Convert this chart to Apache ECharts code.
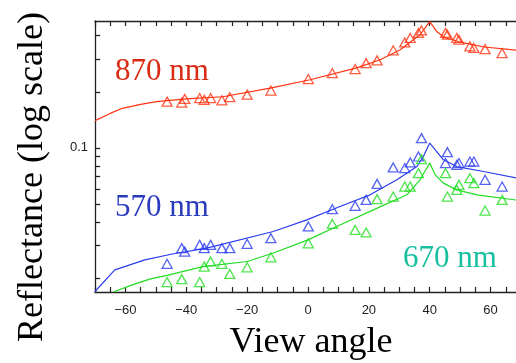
<!DOCTYPE html>
<html><head><meta charset="utf-8">
<script src="https://cdn.jsdelivr.net/npm/echarts@6/dist/echarts.min.js"></script>
<style>html,body{margin:0;padding:0;background:#fff}#c{width:516px;height:363px}</style>
</head><body><div id="c"></div>
<script>
// ---- data ----
const viewAngles = [-46.3, -41.5, -40.5, -35.6, -34.1, -32, -28.3, -25.7, -20, -12.2, 0.1, 8, 15.5, 19.1, 22.7, 28, 31.8, 33.6, 36.3, 37.3, 45.2, 45.8, 48.9, 49.6, 53.2, 54.5, 58.2, 63.8];
const red870Points = [0.177, 0.175, 0.183, 0.185, 0.181, 0.185, 0.180, 0.187, 0.193, 0.203, 0.234, 0.252, 0.265, 0.285, 0.295, 0.334, 0.368, 0.389, 0.414, 0.427, 0.414, 0.405, 0.389, 0.381, 0.351, 0.344, 0.339, 0.323];
const blue570Points = [0.0238, 0.0289, 0.0277, 0.0301, 0.0289, 0.0301, 0.0289, 0.0289, 0.0305, 0.0327, 0.0378, 0.0468, 0.0488, 0.0525, 0.064, 0.0784, 0.0778, 0.0834, 0.0898, 0.1127, 0.0828, 0.0948, 0.081, 0.0828, 0.0844, 0.0844, 0.0673, 0.0619];
const green670Points = [0.019, 0.0197, 0.0165, 0.019, 0.023, 0.0245, 0.0238, 0.021, 0.0228, 0.0258, 0.0307, 0.039, 0.0362, 0.0351, 0.053, 0.0547, 0.0619, 0.0619, 0.0731, 0.0869, 0.0731, 0.0547, 0.0594, 0.0632, 0.0687, 0.0646, 0.046, 0.0525];

const redCurveAngles = [-70, -65, -61, -55, -49.8, -40, -28, -12, 0.7, 16, 23.7, 30.3, 36.8, 40, 42.4, 45, 50, 58, 70];
const redCurveValues = [0.14, 0.153, 0.163, 0.171, 0.177, 0.183, 0.188, 0.210, 0.232, 0.269, 0.297, 0.336, 0.405, 0.476, 0.42, 0.39, 0.37, 0.348, 0.333];
const blueCurveAngles = [-70, -63.5, -53.6, -45, -33.3, -11.4, -0.4, 10.5, 20.4, 29.2, 35.8, 37.9, 40, 42.3, 44.5, 48.9, 57.7, 70];
const blueCurveValues = [0.0169, 0.0221, 0.025, 0.0268, 0.0289, 0.0355, 0.041, 0.0484, 0.0559, 0.0673, 0.0793, 0.0898, 0.106, 0.0955, 0.0862, 0.0793, 0.0746, 0.068];
const greenCurveAngles = [-64, -58, -52, -46, -34.5, -20, -11.4, 0, 10.5, 21.5, 32.5, 36.8, 40, 41.8, 44.5, 48.9, 55.5, 70];
const greenCurveValues = [0.0168, 0.0183, 0.0197, 0.0207, 0.023, 0.0245, 0.0272, 0.032, 0.0385, 0.0464, 0.0559, 0.0673, 0.0828, 0.0716, 0.0646, 0.0594, 0.0559, 0.052];

const yTickValues = [0.02, 0.03, 0.04, 0.05, 0.06, 0.07, 0.08, 0.09, 0.1, 0.2, 0.3, 0.4];
const yLabelValues = [0.1];
const xLabelStep = 20;

const X_MIN = -70, X_MAX = 70;
const Y_MIN = 0.0168, Y_MAX = 0.48;
const TICK_SPAN_DEG = 1.7; // length of the left-frame ticks, in x-axis units
const AX = '#222';
const RED = '#ff3311', BLUE = '#2b3cf0', GREEN = '#22dd22';

function pairs(xs, ys) { return xs.map((x, i) => [x, ys[i]]); }
function xFmt(v) { return v % xLabelStep === 0 ? (v < 0 ? '\u2212' + Math.abs(v) : String(v)) : ''; }

const chart = echarts.init(document.getElementById('c'), null, {renderer: 'canvas'});
const lineSeries = (name, data, color, extra) => Object.assign({
  name, type: 'line', data, showSymbol: false, symbol: 'none', z: 2,
  lineStyle: {color, width: 1.2}, xAxisIndex: 0, yAxisIndex: 0, clip: true, animation: false
}, extra || {});
const ptSeries = (name, data, color) => ({
  name, type: 'scatter', data, symbol: 'triangle', symbolSize: [10, 9], z: 3,
  itemStyle: {color: 'rgba(255,255,255,0)', borderColor: color, borderWidth: 1.3},
  xAxisIndex: 0, yAxisIndex: 0, clip: true, animation: false
});

const tickMarkLine = {
  silent: true, symbol: ['none', 'none'], animation: false,
  label: {show: false},
  lineStyle: {color: AX, width: 1.3, type: 'solid'},
  emphasis: {disabled: true},
  data: yTickValues.map(v => [{coord: [X_MIN, v]}, {coord: [X_MIN + TICK_SPAN_DEG, v]}])
};

chart.setOption({
  animation: false,
  grid: {left: 95, top: 21, right: -5, bottom: 71, containLabel: false, outerBoundsMode: 'none'},
  xAxis: [
    {type: 'value', min: X_MIN, max: X_MAX, interval: 5, position: 'bottom',
     axisLine: {show: true, onZero: false, lineStyle: {color: AX, width: 1.3}},
     axisTick: {show: true, inside: true, length: 5, lineStyle: {color: AX, width: 1.2}},
     axisLabel: {formatter: xFmt, color: '#222', fontSize: 13, fontFamily: 'Liberation Sans', margin: 12},
     splitLine: {show: false}},
    {type: 'value', min: X_MIN, max: X_MAX, interval: 5, position: 'top',
     axisLine: {show: true, onZero: false, lineStyle: {color: AX, width: 1.3}},
     axisTick: {show: true, inside: true, length: 5, lineStyle: {color: AX, width: 1.2}},
     axisLabel: {show: false}, splitLine: {show: false}}
  ],
  yAxis: [
    {type: 'log', logBase: 10, min: Y_MIN, max: Y_MAX, position: 'left',
     axisLine: {show: true, onZero: false, lineStyle: {color: AX, width: 1.3}},
     axisTick: {show: false},
     axisLabel: {formatter: v => yLabelValues.some(t => Math.abs(v - t) < 1e-6) ? String(v.toFixed(1)) : '',
                 color: '#222', fontSize: 13, fontFamily: 'Liberation Sans', margin: 7},
     splitLine: {show: false}}
  ],
  series: [
    lineSeries('870 nm model', pairs(redCurveAngles, redCurveValues), RED, {markLine: tickMarkLine}),
    lineSeries('570 nm model', pairs(blueCurveAngles, blueCurveValues), BLUE),
    lineSeries('670 nm model', pairs(greenCurveAngles, greenCurveValues), GREEN),
    ptSeries('870 nm', pairs(viewAngles, red870Points), RED),
    ptSeries('570 nm', pairs(viewAngles, blue570Points), BLUE),
    ptSeries('670 nm', pairs(viewAngles, green670Points), GREEN)
  ],
  graphic: [
    {type: 'text', x: 115, y: 72, z: 10, style: {text: '870 nm', fill: '#d92b12', font: '31px "Liberation Serif"', align: 'left', verticalAlign: 'middle'}},
    {type: 'text', x: 115, y: 208, z: 10, style: {text: '570 nm', fill: '#2b3bbf', font: '31px "Liberation Serif"', align: 'left', verticalAlign: 'middle'}},
    {type: 'text', x: 403, y: 259, z: 10, style: {text: '670 nm', fill: '#19c0a0', font: '31px "Liberation Serif"', align: 'left', verticalAlign: 'middle'}},
    {type: 'text', x: 311, y: 343, z: 10, style: {text: 'View angle', fill: '#000', font: '36px "Liberation Serif"', align: 'center', verticalAlign: 'middle'}},
    {type: 'text', x: 33, y: 177, rotation: Math.PI / 2, z: 10, style: {text: 'Reflectance (log scale)', fill: '#000', font: '36px "Liberation Serif"', align: 'center', verticalAlign: 'middle'}}
  ]
});
</script></body></html>
